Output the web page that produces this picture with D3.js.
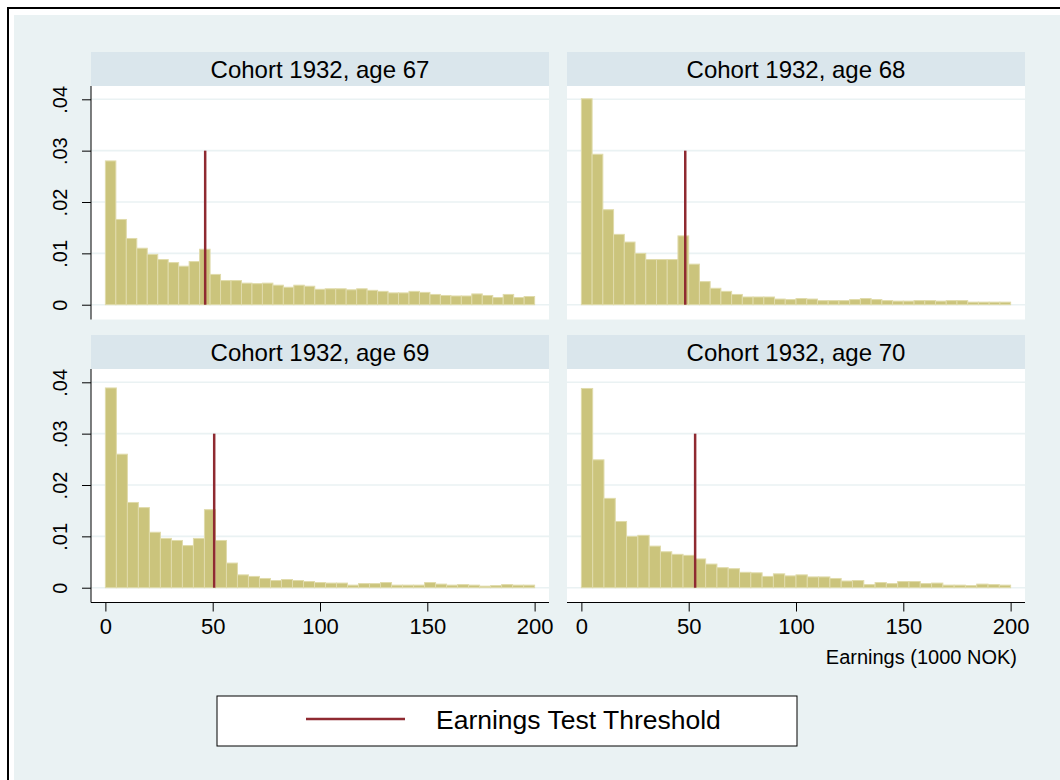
<!DOCTYPE html>
<html><head><meta charset="utf-8">
<script src="https://cdn.jsdelivr.net/npm/d3@7"></script>
<style>html,body{margin:0;padding:0;background:#fff;}svg{display:block;font-family:"Liberation Sans",Arial,sans-serif;}</style>
</head><body><svg id="c" width="1060" height="780"></svg>
<script>
// ---- data ----
const panelTitles = ["Cohort 1932, age 67","Cohort 1932, age 68","Cohort 1932, age 69","Cohort 1932, age 70"];
const density67 = [0.0280,0.0166,0.0129,0.0110,0.0098,0.0088,0.0082,0.0075,0.0084,0.0108,
  0.0059,0.0047,0.0047,0.0042,0.0041,0.0042,0.0038,0.0034,0.0038,0.0036,
  0.0030,0.0031,0.0031,0.0029,0.0031,0.0028,0.0026,0.0023,0.0023,0.0026,
  0.0024,0.0020,0.0018,0.0017,0.0017,0.0021,0.0018,0.0014,0.0020,0.0014,0.0016];
const density68 = [0.0401,0.0293,0.0185,0.0137,0.0122,0.0100,0.0088,0.0088,0.0088,0.0134,
  0.0079,0.0045,0.0032,0.0026,0.0020,0.0015,0.0015,0.0015,0.0011,0.0010,
  0.0012,0.0011,0.0008,0.0008,0.0008,0.0010,0.0012,0.0010,0.0008,0.0007,
  0.0007,0.0008,0.0008,0.0007,0.0008,0.0008,0.0005,0.0005,0.0005,0.0005];
const density69 = [0.0389,0.0260,0.0166,0.0156,0.0108,0.0096,0.0092,0.0082,0.0096,0.0152,
  0.0092,0.0048,0.0025,0.0022,0.0018,0.0014,0.0016,0.0014,0.0012,0.0010,
  0.0009,0.0009,0.0005,0.0008,0.0008,0.0010,0.0005,0.0005,0.0005,0.0010,
  0.0007,0.0005,0.0006,0.0005,0.0003,0.0004,0.0006,0.0005,0.0005];
const density70 = [0.0388,0.0249,0.0174,0.0129,0.0100,0.0102,0.0081,0.0070,0.0065,0.0063,
  0.0056,0.0046,0.0039,0.0037,0.0030,0.0029,0.0022,0.0027,0.0023,0.0025,
  0.0021,0.0021,0.0018,0.0013,0.0014,0.0006,0.0010,0.0008,0.0012,0.0012,
  0.0008,0.0009,0.0005,0.0005,0.0004,0.0007,0.0006,0.0005];
const thresholds = [46.5, 48.4, 50.7, 53.0];
const binRange = [0, 200];
const yTicks = [0, 0.01, 0.02, 0.03, 0.04];
const yTickLabels = ["0", ".01", ".02", ".03", ".04"];
const xTicks = [0, 50, 100, 150, 200];
const xTitle = "Earnings (1000 NOK)";
const legendLabel = "Earnings Test Threshold";
const densities = [density67, density68, density69, density70];

// ---- layout ----
const svg = d3.select("#c");
const colX = [91, 567], rowY = [52, 335];
const panelW = 458, stripH = 34, plotH = 233.5;
const barFill = "#cbc47c", barStroke = "#e0dbab", threshColor = "#8f2a31";
const bg = "#eaf2f3", stripBg = "#dae6ec", gridC = "#eaf2f3";
const FONT = "Liberation Sans, Arial, sans-serif";

svg.append("rect").attr("x",14).attr("y",15).attr("width",1060).attr("height",780).attr("fill",bg);
svg.append("path").attr("d","M8,780 V8 H1060").attr("fill","none").attr("stroke","#000").attr("stroke-width",2);

const x = d3.scaleLinear().domain([-6.7, 206.7]).range([0, panelW]);
const y = d3.scaleLinear().domain([-0.00288, 0.04259]).range([plotH, 0]);

densities.forEach((dens, p) => {
  const col = p % 2, row = Math.floor(p / 2);
  const g = svg.append("g").attr("transform", `translate(${colX[col]},${rowY[row]})`);
  // strip
  g.append("rect").attr("x",0).attr("y",0).attr("width",panelW).attr("height",stripH).attr("fill",stripBg);
  g.append("text").attr("x",panelW/2).attr("y",stripH/2+8.5).attr("text-anchor","middle")
    .attr("font-size",24).attr("fill","#000").text(panelTitles[p]);
  const pg = g.append("g").attr("transform",`translate(0,${stripH})`);
  pg.append("rect").attr("width",panelW).attr("height",plotH).attr("fill","#fff");
  // grid
  pg.selectAll("line.grid").data(yTicks).join("line").attr("class","grid")
    .attr("x1",0).attr("x2",panelW).attr("y1",d=>y(d)).attr("y2",d=>y(d))
    .attr("stroke",gridC).attr("stroke-width",1.6);
  // bars
  const n = dens.length, bw = (binRange[1]-binRange[0]) / n;
  pg.selectAll("rect.bar").data(dens).join("rect").attr("class","bar")
    .attr("x",(d,i)=>x(binRange[0]+i*bw)).attr("width",(d,i)=>x(binRange[0]+(i+1)*bw)-x(binRange[0]+i*bw))
    .attr("y",d=>y(d)).attr("height",d=>y(0)-y(d))
    .attr("fill",barFill).attr("stroke",barStroke).attr("stroke-width",1);
  // threshold
  pg.append("line").attr("x1",x(thresholds[p])).attr("x2",x(thresholds[p]))
    .attr("y1",y(0)).attr("y2",y(0.03)).attr("stroke",threshColor).attr("stroke-width",2.5);
  // y axis on left column
  if (col === 0) {
    const ya = d3.axisLeft(y).tickValues(yTicks).tickSize(9).tickFormat((d,i)=>yTickLabels[i]);
    const yg = pg.append("g").call(ya);
    yg.select(".domain").attr("d",`M0,0V${plotH}`).attr("stroke","#000");
    yg.selectAll(".tick line").attr("stroke","#000");
    yg.selectAll(".tick text").attr("font-size",20).attr("font-family",FONT)
      .attr("fill","#000").attr("text-anchor","middle").attr("dy",0)
      .attr("transform","translate(-24,0) rotate(-90)").attr("x",0).attr("y",0);
  }
  // x axis on bottom row
  if (row === 1) {
    const xa = d3.axisBottom(x).tickValues(xTicks).tickSize(9).tickFormat(d3.format("d"));
    const xg = pg.append("g").attr("transform",`translate(0,${plotH})`).call(xa);
    xg.select(".domain").attr("d",`M0,0H${panelW}`).attr("stroke","#000");
    xg.selectAll(".tick line").attr("stroke","#000");
    xg.selectAll(".tick text").attr("font-size",22).attr("font-family",FONT)
      .attr("fill","#000").attr("y",16).attr("dy","0.71em");
  }
});

// x axis title
svg.append("text").attr("x",1017).attr("y",664).attr("text-anchor","end").attr("font-size",20)
  .attr("fill","#000").text(xTitle);

// legend
const lg = svg.append("g");
lg.append("rect").attr("x",217).attr("y",696).attr("width",580).attr("height",50)
  .attr("fill","#fff").attr("stroke","#000").attr("stroke-width",1);
lg.append("line").attr("x1",306).attr("x2",405).attr("y1",719).attr("y2",719)
  .attr("stroke",threshColor).attr("stroke-width",2.5);
lg.append("text").attr("x",436).attr("y",729).attr("font-size",26.5).attr("fill","#000").text(legendLabel);
</script></body></html>
